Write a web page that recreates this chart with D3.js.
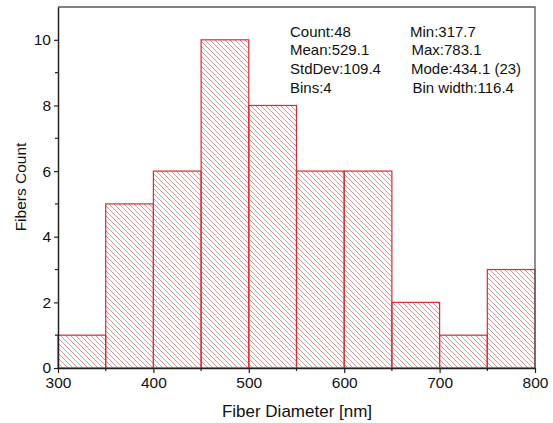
<!DOCTYPE html>
<html>
<head>
<meta charset="utf-8">
<script src="https://cdn.jsdelivr.net/npm/d3@7"></script>
<style>
  html, body { margin: 0; padding: 0; background: #fff; }
  svg { display: block; font-family: "Liberation Sans", Arial, sans-serif; }
</style>
</head>
<body>
<svg id="chart" width="553" height="423"></svg>
<script>
// Histogram bins (lower edges, nm) and counts per bin
const binStarts = [300, 350, 400, 450, 500, 550, 600, 650, 700, 750];
const binWidth = 50;
const counts = [1, 5, 6, 10, 8, 6, 6, 2, 1, 3];

// Statistics panel
const statsLeft = ["Count:48", "Mean:529.1", "StdDev:109.4", "Bins:4"];
const statsRight = ["Min:317.7", "Max:783.1", "Mode:434.1 (23)", "Bin width:116.4"];

const xTicks = [300, 400, 500, 600, 700, 800];
const xMinor = [350, 450, 550, 650, 750];
const yTicks = [0, 2, 4, 6, 8, 10];
const yMinor = [1, 3, 5, 7, 9];

const svg = d3.select("#chart");
const m = { left: 58, right: 535, top: 7, bottom: 368 };

const x = d3.scaleLinear().domain([300, 800]).range([m.left, m.right]);
const y = d3.scaleLinear().domain([0, 11]).range([m.bottom, m.top]);

// Diagonal hatch fill
const defs = svg.append("defs");
const pat = defs.append("pattern")
  .attr("id", "hatch")
  .attr("patternUnits", "userSpaceOnUse")
  .attr("width", 5).attr("height", 5);
pat.append("path")
  .attr("d", "M0,0 L5,5 M-1,4 L1,6 M4,-1 L6,1")
  .attr("stroke", "#d77f83")
  .attr("stroke-width", 0.85)
  .attr("fill", "none");

// Bars
svg.append("g").selectAll("rect")
  .data(counts)
  .join("rect")
  .attr("x", (d, i) => x(binStarts[i]))
  .attr("y", d => y(d))
  .attr("width", (d, i) => x(binStarts[i] + binWidth) - x(binStarts[i]))
  .attr("height", d => y(0) - y(d))
  .attr("fill", "url(#hatch)")
  .attr("stroke", "#dc2a30")
  .attr("stroke-width", 1.2);

// Frame (top and right edges)
svg.append("path")
  .attr("d", `M${m.left},${m.top}H${m.right}V${m.bottom}`)
  .attr("fill", "none")
  .attr("stroke", "#555")
  .attr("stroke-width", 1.3);

// Bottom axis
const xAxis = svg.append("g")
  .attr("transform", `translate(0,${m.bottom})`)
  .call(d3.axisBottom(x).tickValues(xTicks).tickSize(5).tickSizeOuter(0).tickPadding(4).tickFormat(d3.format("d")));
xAxis.selectAll(".tick text").attr("font-size", 15.5).attr("fill", "#111");
xAxis.selectAll(".tick line").attr("stroke", "#222").attr("stroke-width", 1.2);
xAxis.select(".domain").attr("stroke", "#222").attr("stroke-width", 1.5);
xAxis.selectAll(".minor").data(xMinor).join("line")
  .attr("class", "minor")
  .attr("x1", d => x(d)).attr("x2", d => x(d))
  .attr("y1", 0).attr("y2", 3)
  .attr("stroke", "#222").attr("stroke-width", 1.2);

// Left axis
const yAxis = svg.append("g")
  .attr("transform", `translate(${m.left},0)`)
  .call(d3.axisLeft(y).tickValues(yTicks).tickSize(4).tickSizeOuter(0).tickPadding(3).tickFormat(d3.format("d")));
yAxis.selectAll(".tick text").attr("font-size", 15.5).attr("fill", "#111");
yAxis.selectAll(".tick line").attr("stroke", "#222").attr("stroke-width", 1.2);
yAxis.select(".domain").attr("stroke", "#222").attr("stroke-width", 1.5);
yAxis.selectAll(".minor").data(yMinor).join("line")
  .attr("class", "minor")
  .attr("y1", d => y(d)).attr("y2", d => y(d))
  .attr("x1", 0).attr("x2", -3)
  .attr("stroke", "#222").attr("stroke-width", 1.2);

// Axis titles
svg.append("text")
  .attr("x", 297)
  .attr("y", 416.5)
  .attr("text-anchor", "middle")
  .attr("font-size", 17)
  .attr("fill", "#111")
  .text("Fiber Diameter [nm]");

svg.append("text")
  .attr("transform", `translate(26,187) rotate(-90)`)
  .attr("text-anchor", "middle")
  .attr("font-size", 15.5)
  .attr("fill", "#111")
  .text("Fibers Count");

// Statistics text
const stats = svg.append("g").attr("font-size", 15).attr("fill", "#111");
stats.selectAll(".sl").data(statsLeft).join("text")
  .attr("class", "sl")
  .attr("x", 290)
  .attr("y", (d, i) => 36.5 + i * 18.8)
  .text(d => d);
stats.selectAll(".sr").data(statsRight).join("text")
  .attr("class", "sr")
  .attr("x", (d, i) => [410, 411.5, 411, 412.5][i])
  .attr("y", (d, i) => 36.5 + i * 18.8)
  .text(d => d);
</script>
</body>
</html>
